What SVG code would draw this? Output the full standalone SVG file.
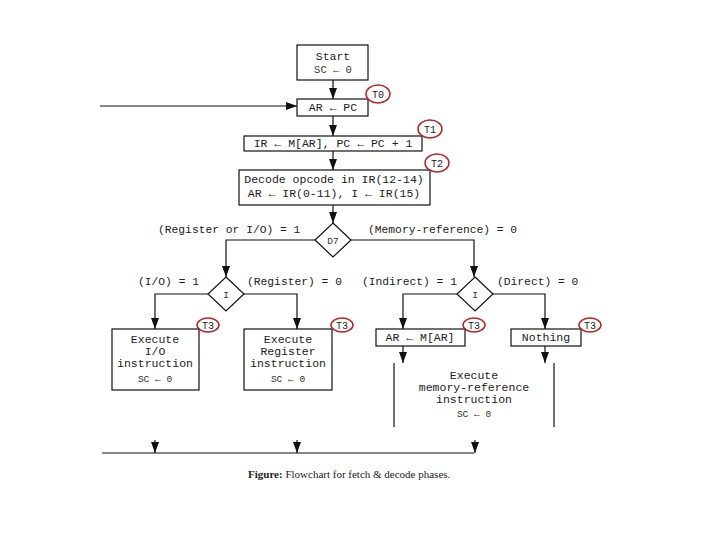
<svg xmlns="http://www.w3.org/2000/svg" width="720" height="540" viewBox="0 0 720 540">
<defs>
<marker id="ah" markerUnits="userSpaceOnUse" markerWidth="13" markerHeight="10" refX="11" refY="4" orient="auto">
<path d="M0,0 L11,4 L0,8 z" fill="#111"/>
</marker>
<style>
.box{fill:#fff;stroke:#111;stroke-width:1.2}
.ln{fill:none;stroke:#111;stroke-width:1.2}
.t{font-family:"Liberation Mono","DejaVu Sans Mono",monospace;font-size:11.5px;fill:#222;text-anchor:middle}
.s{font-family:"Liberation Mono","DejaVu Sans Mono",monospace;font-size:9.5px;fill:#333;text-anchor:middle}
.lab{font-family:"Liberation Mono","DejaVu Sans Mono",monospace;font-size:11.3px;fill:#222}
.tc{fill:none;stroke:#b22;stroke-width:1.5}
.tt{font-family:"Liberation Mono",monospace;font-size:10px;fill:#222;text-anchor:middle}
.cap{font-family:"Liberation Serif",serif;font-size:11px;fill:#222}
</style>
</defs>
<rect width="720" height="540" fill="#fff"/>

<g id="connectors">
<line class="ln" x1="333" y1="80" x2="333" y2="99" marker-end="url(#ah)"/>
<line class="ln" x1="100" y1="106" x2="297" y2="106" marker-end="url(#ah)"/>
<line class="ln" x1="333" y1="116" x2="333" y2="136" marker-end="url(#ah)"/>
<line class="ln" x1="333" y1="151" x2="333" y2="170" marker-end="url(#ah)"/>
<line class="ln" x1="333" y1="205" x2="333" y2="223" marker-end="url(#ah)"/>
<polyline class="ln" points="315,240 226,240 226,277" marker-end="url(#ah)"/>
<polyline class="ln" points="351,240 474,240 474,277" marker-end="url(#ah)"/>
<polyline class="ln" points="208,294 155,294 155,329" marker-end="url(#ah)"/>
<polyline class="ln" points="244,294 297,294 297,329" marker-end="url(#ah)"/>
<polyline class="ln" points="457,294 403,294 403,329" marker-end="url(#ah)"/>
<polyline class="ln" points="493,294 545,294 545,329" marker-end="url(#ah)"/>
<line class="ln" x1="403" y1="346" x2="403" y2="363" marker-end="url(#ah)"/>
<line class="ln" x1="545" y1="346" x2="545" y2="363" marker-end="url(#ah)"/>
<line class="ln" x1="394" y1="363" x2="394" y2="427"/>
<line class="ln" x1="554" y1="363" x2="554" y2="427"/>
<line class="ln" x1="102" y1="453" x2="474" y2="453"/>
<line class="ln" x1="155" y1="440" x2="155" y2="453" marker-end="url(#ah)"/>
<line class="ln" x1="297" y1="440" x2="297" y2="453" marker-end="url(#ah)"/>
<line class="ln" x1="475" y1="440" x2="475" y2="453" marker-end="url(#ah)"/>
</g>

<g id="start">
<rect class="box" x="297" y="45" width="71" height="35"/>
<text class="t" x="333" y="60">Start</text>
<text class="s" x="333" y="73" style="font-size:10.5px">SC ← 0</text>
</g>

<g id="t0">
<rect class="box" x="297" y="99" width="71" height="17"/>
<text class="t" x="333" y="111">AR ← PC</text>
<ellipse class="tc" cx="378" cy="94" rx="12" ry="9"/>
<text class="tt" x="378" y="97.5">T0</text>
</g>

<g id="t1">
<rect class="box" x="244" y="136" width="178" height="15"/>
<text class="t" x="333" y="147">IR ← M[AR], PC ← PC + 1</text>
<ellipse class="tc" cx="430" cy="129" rx="12" ry="9"/>
<text class="tt" x="430" y="132.5">T1</text>
</g>

<g id="t2">
<rect class="box" x="239" y="170" width="191" height="35"/>
<text class="t" x="334" y="183">Decode opcode in IR(12-14)</text>
<text class="t" x="334" y="197">AR ← IR(0-11), I ← IR(15)</text>
<ellipse class="tc" cx="437" cy="163" rx="12" ry="9"/>
<text class="tt" x="437" y="166.5">T2</text>
</g>

<g id="d7">
<polygon class="box" points="333,223 351,240 333,257 315,240"/>
<text class="s" x="333" y="243.5">D7</text>
<text class="lab" x="158" y="233">(Register or I/O) = 1</text>
<text class="lab" x="368" y="233">(Memory-reference) = 0</text>
</g>

<g id="i-left">
<polygon class="box" points="226,277 244,294 226,311 208,294"/>
<text class="s" x="226" y="297.5">I</text>
<text class="lab" x="138" y="285">(I/O) = 1</text>
<text class="lab" x="247" y="285">(Register) = 0</text>
</g>

<g id="i-right">
<polygon class="box" points="475,277 493,294 475,311 457,294"/>
<text class="s" x="475" y="297.5">I</text>
<text class="lab" x="362" y="285">(Indirect) = 1</text>
<text class="lab" x="497" y="285">(Direct) = 0</text>
</g>

<g id="exec-io">
<rect class="box" x="112" y="329" width="87" height="61"/>
<text class="t" x="155" y="343">Execute</text>
<text class="t" x="155" y="355">I/O</text>
<text class="t" x="155" y="367">instruction</text>
<text class="s" x="155" y="382">SC ← 0</text>
<ellipse class="tc" cx="208" cy="325" rx="11" ry="7"/>
<text class="tt" x="208" y="328.5">T3</text>
</g>

<g id="exec-reg">
<rect class="box" x="244" y="329" width="88" height="61"/>
<text class="t" x="288" y="343">Execute</text>
<text class="t" x="288" y="355">Register</text>
<text class="t" x="288" y="367">instruction</text>
<text class="s" x="288" y="382">SC ← 0</text>
<ellipse class="tc" cx="342" cy="325" rx="11" ry="7"/>
<text class="tt" x="342" y="328.5">T3</text>
</g>

<g id="indirect">
<rect class="box" x="376" y="329" width="89" height="17"/>
<text class="t" x="420" y="341">AR ← M[AR]</text>
<ellipse class="tc" cx="474" cy="325" rx="11" ry="7"/>
<text class="tt" x="474" y="328.5">T3</text>
</g>

<g id="nothing">
<rect class="box" x="511" y="329" width="70" height="17"/>
<text class="t" x="546" y="341">Nothing</text>
<ellipse class="tc" cx="590" cy="325" rx="11" ry="7"/>
<text class="tt" x="590" y="328.5">T3</text>
</g>

<g id="exec-mem">
<text class="t" x="474" y="379">Execute</text>
<text class="t" x="474" y="391">memory-reference</text>
<text class="t" x="474" y="403">instruction</text>
<text class="s" x="474" y="417">SC ← 0</text>
</g>

<g id="caption">
<text class="cap" x="248" y="478"><tspan font-weight="bold">Figure:</tspan> Flowchart for fetch &amp; decode phases.</text>
</g>
</svg>
